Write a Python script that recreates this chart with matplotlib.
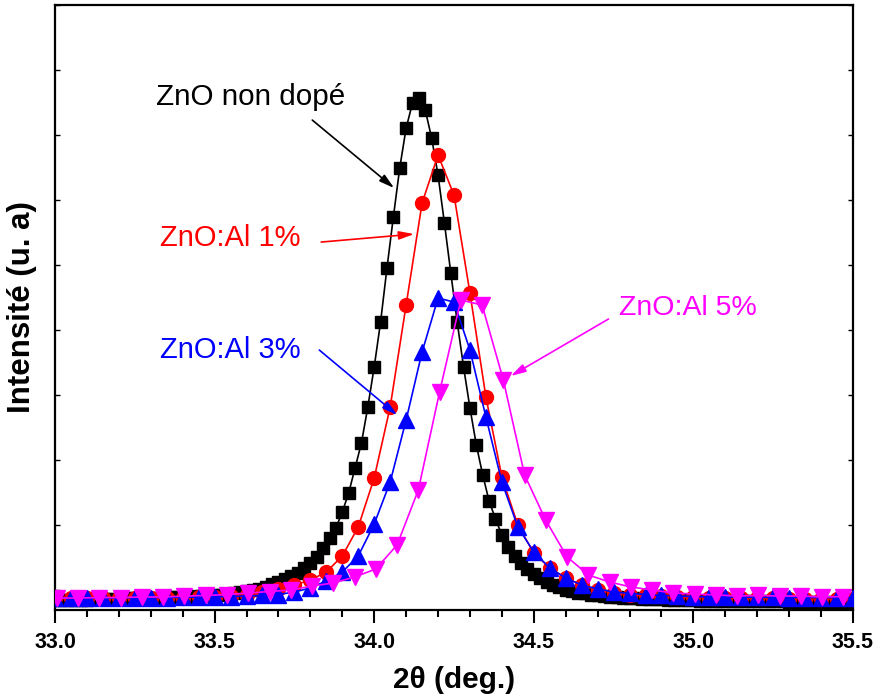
import numpy as np
import matplotlib
matplotlib.use("Agg")
import matplotlib.pyplot as plt
from matplotlib.ticker import MultipleLocator, FixedLocator, FormatStrFormatter

plt.rcParams['font.family'] = ['Liberation Sans', 'DejaVu Sans']

# ---- data ----
x_black = np.round(np.arange(33.0, 35.5001, 0.02), 2)
y_black = [854, 854, 854, 857, 860, 861, 864, 866, 869, 872,
           874, 877, 880, 881, 884, 888, 891, 894, 897, 900,
           903, 907, 912, 918, 924, 931, 938, 946, 958, 972,
           989, 1007, 1030, 1061, 1092, 1130, 1169, 1215, 1269, 1338,
           1415, 1515, 1653, 1807, 1960, 2206, 2498, 2883, 3267, 3820,
           4435, 5127, 5957, 6740, 7494, 8108, 8493, 8569, 8385, 7955,
           7386, 6648, 5880, 5127, 4435, 3805, 3236, 2775, 2375, 2099,
           1853, 1668, 1530, 1422, 1330, 1253, 1192, 1130, 1084, 1046,
           1015, 992, 969, 954, 938, 926, 915, 906, 898, 892,
           886, 880, 875, 871, 866, 863, 860, 857, 854, 851,
           848, 846, 845, 843, 842, 840, 839, 838, 837, 836,
           835, 834, 833, 832, 831, 830, 829, 828, 828, 827,
           826, 826, 825, 825, 824, 824]

x_al = np.round(np.arange(33.0, 35.5001, 0.05), 2)
y_al1 = [877, 877, 877, 878, 880, 881, 884, 888, 892, 897,
         903, 915, 938, 977, 1023, 1084, 1161, 1284, 1530, 1976,
         2729, 3820, 5388, 6956, 7693, 7079, 5572, 3974, 2744, 2006,
         1576, 1346, 1192, 1084, 1007, 961, 938, 923, 911, 900,
         894, 889, 884, 881, 878, 877, 875, 874, 872, 871, 869]
y_al3 = [884, 884, 884, 884, 888, 888, 891, 892, 895, 900,
         903, 907, 915, 923, 938, 977, 1038, 1146, 1284, 1530,
         2022, 2667, 3620, 4665, 5495, 5434, 4696, 3666, 2667, 1976,
         1591, 1346, 1192, 1084, 1023, 977, 954, 938, 923, 915,
         907, 900, 900, 897, 895, 894, 892, 892, 891, 891, 889]

x_al5 = np.round(33.006 + 0.0666 * np.arange(38), 4)
y_al5 = [884, 884, 892, 892, 900, 900, 915, 923, 938, 961,
         984, 1007, 1069, 1115, 1207, 1330, 1699, 2544, 4051, 5465,
         5388, 4235, 2775, 2076, 1515, 1238, 1130, 1054, 1007, 961,
         946, 931, 915, 923, 915, 915, 900, 907]

xticks = [33.0, 33.5, 34.0, 34.5, 35.0, 35.5]

# ---- figure ----
fig = plt.figure(figsize=(8.77, 6.98), dpi=100)
ax = fig.add_axes([55/877, 1 - 610/698, (853 - 55)/877, (610 - 5)/698])

ax.plot(x_black, y_black, '-s', color='black', ms=8.3, lw=1.2, zorder=3)
ax.plot(x_al, y_al1, '-o', color='#ff0000', ms=10, lw=1.2, zorder=4)
ax.plot(x_al, y_al3, '-^', color='#0000ff', ms=11.5, lw=1.2, zorder=5)
ax.plot(x_al5, y_al5, '-v', color='#ff00ff', ms=11.5, lw=1.2, zorder=6)

ax.set_xlim(33.0, 35.5)
ax.set_ylim(700, 10000)

ax.xaxis.set_major_locator(FixedLocator(xticks))
ax.xaxis.set_minor_locator(MultipleLocator(0.1))
ax.xaxis.set_major_formatter(FormatStrFormatter('%.1f'))
ax.yaxis.set_major_locator(MultipleLocator(1000))
ax.tick_params(axis='x', which='major', direction='out', length=9, width=1.5,
               labelsize=15.5, pad=6.5)
ax.tick_params(axis='x', which='minor', direction='out', length=5, width=1.5)
ax.tick_params(axis='y', which='major', direction='in', length=3.5, width=1,
               left=True, right=True, labelleft=False)
for lab in ax.get_xticklabels():
    lab.set_fontweight('bold')
for sp in ax.spines.values():
    sp.set_linewidth(1.6)

ax.set_xlabel('2θ (deg.)', fontsize=21.5, fontweight='bold', labelpad=10)
ax.set_ylabel('Intensité (u. a)', fontsize=22.5, fontweight='bold', labelpad=13)

def arrow(tail, head, color):
    ax.annotate('', xy=head, xytext=tail,
                arrowprops=dict(arrowstyle='-|>,head_length=0.9,head_width=0.25',
                                color=color, lw=1.2, shrinkA=0, shrinkB=0),
                zorder=7)

ax.text(33.6125, 8585, 'ZnO non dopé', color='black', fontsize=21.3,
        ha='center', va='center')
arrow((33.806, 8231), (34.0625, 7186), 'black')

ax.text(33.328, 6418, 'ZnO:Al 1%', color='#ff0000', fontsize=21,
        ha='left', va='center')
arrow((33.834, 6356), (34.125, 6479), '#ff0000')

ax.text(33.328, 4696, 'ZnO:Al 3%', color='#0000ff', fontsize=21,
        ha='left', va='center')
arrow((33.828, 4696), (34.072, 3697), '#0000ff')

ax.text(34.766, 5342, 'ZnO:Al 5%', color='#ff00ff', fontsize=20.5,
        ha='left', va='center')
arrow((34.734, 5173), (34.428, 4297), '#ff00ff')

fig.savefig('out.png', dpi=100)
